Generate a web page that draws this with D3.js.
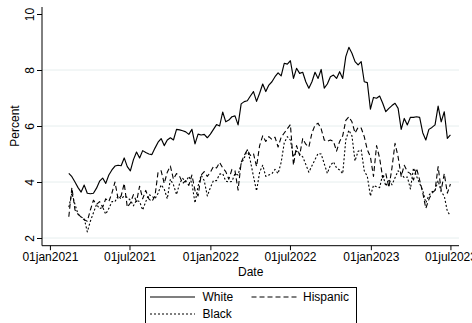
<!DOCTYPE html>
<html>
<head>
<meta charset="utf-8">
<script src="https://cdn.jsdelivr.net/npm/d3@7"></script>
<style>
  html, body { margin: 0; padding: 0; background: #fff; }
  svg { display: block; font-family: "Liberation Sans", Arial, sans-serif; }
</style>
</head>
<body>
<svg id="chart" width="472" height="323"></svg>
<script>
// Weekly share (percent) by group, first week 13 Feb 2021
const firstWeek = "2021-02-13";

const white = [
  4.31, 4.19, 4.00, 3.80, 3.64, 3.89, 3.60, 3.58, 3.60, 3.78,
  4.03, 4.14, 3.95, 4.25, 4.43, 4.57, 4.60, 4.58, 4.86, 4.55,
  4.40, 4.80, 5.07, 4.86, 5.12, 5.05, 5.00, 4.98, 5.21, 5.42,
  5.55, 5.30, 5.50, 5.58, 5.50, 5.88, 5.86, 5.83, 5.79, 5.70,
  5.88, 5.36, 5.71, 5.68, 5.70, 5.58, 5.71, 5.88, 6.05, 6.00,
  6.50, 6.15, 6.21, 6.33, 6.36, 6.04, 6.79, 6.87, 6.90, 7.07,
  7.23, 6.88, 7.17, 7.50, 7.23, 7.46, 7.58, 7.76, 7.90, 7.79,
  8.24, 8.21, 8.33, 7.70, 8.06, 7.88, 7.92, 7.58, 7.35, 7.58,
  7.92, 7.70, 8.02, 7.35, 7.50, 7.76, 7.82, 7.70, 7.94, 7.70,
  8.48, 8.81, 8.60, 8.30, 8.18, 8.30, 7.58, 7.55, 6.60, 7.02,
  6.99, 7.07, 6.81, 6.51, 6.63, 6.73, 6.81, 6.63, 5.88, 6.27,
  6.04, 6.31, 6.31, 6.33, 6.31, 5.76, 5.50, 5.88, 5.95, 6.04,
  6.71, 6.15, 6.51, 5.56, 5.68
];

const hispanic = [
  2.76, 3.80, 3.00, 2.85, 2.75, 2.65, 2.60, 3.00, 3.35, 3.20,
  3.30, 3.10, 3.40, 3.30, 3.60, 4.00, 3.40, 3.50, 3.95, 3.10,
  3.25, 3.55, 3.30, 3.85, 3.40, 3.70, 3.40, 3.30, 3.50, 4.35,
  4.40, 3.95, 4.35, 4.57, 4.10, 4.30, 4.20, 3.95, 4.05, 3.88,
  4.25, 3.70, 3.50, 4.25, 4.37, 4.20, 4.35, 4.55, 4.50, 4.70,
  4.50, 4.37, 4.10, 4.45, 4.40, 3.71, 4.70, 4.95, 5.15, 4.95,
  5.02, 4.55, 5.30, 5.65, 5.45, 5.62, 5.52, 5.60, 5.25, 5.60,
  5.75, 5.90, 6.05, 4.60, 5.30, 4.95, 5.55, 5.35, 5.25, 5.75,
  6.03, 6.10, 5.90, 5.50, 5.45, 5.50, 5.45, 5.10, 5.45, 5.65,
  6.20, 6.33, 6.15, 5.75, 5.95, 5.93, 5.62, 5.15, 4.90, 4.20,
  5.30, 4.85, 4.15, 4.31, 3.80, 4.50, 5.38, 4.90, 4.20, 4.60,
  4.37, 4.30, 4.07, 4.49, 4.07, 3.62, 3.06, 3.38, 3.60, 3.70,
  4.55, 3.70, 4.30, 3.60, 3.93
];

const black = [
  3.10, 3.60, 3.20, 2.85, 2.75, 2.70, 2.22, 2.60, 2.90, 3.20,
  3.05, 3.10, 2.85, 3.05, 3.30, 3.30, 3.50, 3.40, 3.50, 3.45,
  3.35, 3.15, 3.35, 3.30, 3.00, 3.30, 3.55, 3.50, 3.40, 3.60,
  3.90, 3.75, 3.40, 4.10, 3.90, 3.55, 3.95, 4.13, 4.00, 4.20,
  3.95, 3.25, 3.85, 4.25, 4.05, 3.50, 3.80, 4.05, 4.05, 4.28,
  4.30, 4.03, 4.00, 4.02, 4.30, 4.25, 4.65, 4.85, 5.15, 4.75,
  4.20, 3.68, 4.35, 4.60, 4.20, 4.25, 4.30, 4.45, 4.30, 4.70,
  5.40, 5.62, 5.50, 4.90, 5.10, 5.00, 4.90, 4.63, 4.35, 4.58,
  4.80, 5.02, 5.00, 4.65, 4.31, 4.60, 4.72, 4.50, 4.43, 4.30,
  5.50, 5.85, 5.65, 4.75, 5.10, 5.15, 4.40, 4.20, 3.50, 3.88,
  3.83, 3.80, 4.28, 3.85, 4.10, 3.90, 4.15, 4.40, 4.30, 4.15,
  4.18, 3.75, 4.50, 4.20, 3.95, 3.70, 3.26, 3.52, 3.65, 3.70,
  4.05, 3.65, 3.50, 2.95, 2.80
];

const seriesNames = ["White", "Hispanic", "Black"];
const yTicks = [2, 4, 6, 8, 10];
const yGrid = [2, 4, 6, 8];
const xTickLabels = ["01jan2021", "01jul2021", "01jan2022", "01jul2022", "01jan2023", "01jul2023"];

// ---- setup ----
const svg = d3.select("#chart");
const parseTick = d3.utcParse("%d%b%Y");
const start = d3.utcParse("%Y-%m-%d")(firstWeek);
const weeks = white.map((_, i) => d3.utcDay.offset(start, 7 * i));
const xTicks = xTickLabels.map(s => parseTick(s));

const plot = { left: 42, right: 459, top: 7, bottom: 245.7 };

const x = d3.scaleUtc()
  .domain([new Date(Date.UTC(2020, 11, 14)), new Date(Date.UTC(2023, 6, 20, 12))])
  .range([plot.left, plot.right]);
const y = d3.scaleLinear()
  .domain([1.725, 10.25])
  .range([plot.bottom, plot.top]);

// grid lines
svg.append("g")
  .selectAll("line")
  .data(yGrid)
  .join("line")
  .attr("x1", plot.left).attr("x2", plot.right)
  .attr("y1", d => y(d)).attr("y2", d => y(d))
  .attr("stroke", "#e6eeee").attr("stroke-width", 1);

// series lines
const styles = {
  White:    { dash: null,  width: 1.15 },
  Hispanic: { dash: "5,3", width: 1.1 },
  Black:    { dash: "2,2", width: 1.1 }
};
const data = { White: white, Hispanic: hispanic, Black: black };
const line = d3.line().x((d, i) => x(weeks[i])).y(d => y(d));

svg.append("g")
  .selectAll("path")
  .data(["Black", "Hispanic", "White"])
  .join("path")
  .attr("fill", "none")
  .attr("stroke", "#000")
  .attr("stroke-width", k => styles[k].width)
  .attr("stroke-dasharray", k => styles[k].dash)
  .attr("stroke-linejoin", "round")
  .attr("d", k => line(data[k]));

// y axis
const yAxis = svg.append("g")
  .attr("transform", `translate(${plot.left},0)`)
  .call(d3.axisLeft(y).tickValues(yTicks).tickSize(5).tickFormat(d3.format("d")));
yAxis.select(".domain").attr("d", `M0,${plot.top}V${plot.bottom}`).attr("stroke", "#000");
yAxis.selectAll(".tick line").attr("stroke", "#000");
yAxis.selectAll(".tick text")
  .attr("x", null).attr("dy", null)
  .attr("transform", "translate(-8.5,0) rotate(-90)")
  .attr("text-anchor", "middle")
  .attr("font-size", 12)
  .attr("font-family", "Liberation Sans, Arial, sans-serif")
  .attr("fill", "#000");

// x axis
const xAxis = svg.append("g")
  .attr("transform", `translate(0,${plot.bottom})`)
  .call(d3.axisBottom(x).tickValues(xTicks).tickSize(4.5)
    .tickFormat((d, i) => xTickLabels[i]));
xAxis.select(".domain").attr("d", `M${plot.left},0H${plot.right}`).attr("stroke", "#000");
xAxis.selectAll(".tick line").attr("stroke", "#000");
xAxis.selectAll(".tick text")
  .attr("y", 15.3).attr("dy", null)
  .attr("font-size", 12)
  .attr("font-family", "Liberation Sans, Arial, sans-serif")
  .attr("fill", "#000");

// axis titles
svg.append("text")
  .attr("transform", `translate(18.5,${y(6)}) rotate(-90)`)
  .attr("text-anchor", "middle")
  .attr("font-size", 12)
  .text("Percent");
svg.append("text")
  .attr("x", (x(xTicks[0]) + x(xTicks[5])) / 2 + 0.5)
  .attr("y", 276)
  .attr("text-anchor", "middle")
  .attr("font-size", 12)
  .text("Date");

// legend
const legend = svg.append("g");
legend.append("rect")
  .attr("x", 145.5).attr("y", 287.5)
  .attr("width", 211).attr("height", 40)
  .attr("fill", "#fff").attr("stroke", "#000").attr("stroke-width", 1);
const legendItems = [
  { name: "White",    sx: 150, tx: 202.5, cy: 297 },
  { name: "Hispanic", sx: 251.5, tx: 303, cy: 297 },
  { name: "Black",    sx: 150, tx: 202.5, cy: 314 }
];
legend.selectAll("line")
  .data(legendItems)
  .join("line")
  .attr("x1", d => d.sx).attr("x2", d => d.sx + 45)
  .attr("y1", d => d.cy).attr("y2", d => d.cy)
  .attr("stroke", "#000")
  .attr("stroke-width", d => styles[d.name].width)
  .attr("stroke-dasharray", d => styles[d.name].dash);
legend.selectAll("text")
  .data(legendItems)
  .join("text")
  .attr("x", d => d.tx).attr("y", d => d.cy + 4.3)
  .attr("font-size", 12)
  .text(d => d.name);
</script>
</body>
</html>
